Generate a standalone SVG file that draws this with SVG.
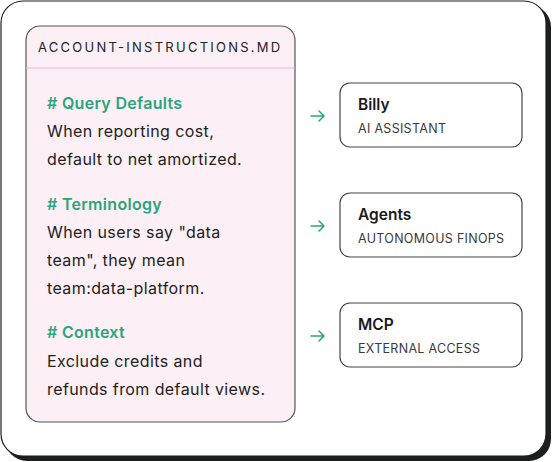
<svg xmlns="http://www.w3.org/2000/svg" width="552" height="462" viewBox="0 0 552 462">
<style>
text { font-family: Inter, "Noto Sans", "Liberation Sans", sans-serif; }
.hdr { font-size: 13px; letter-spacing: 2.25px; fill: #222; }
.h { font-size: 16px; font-weight: 600; fill: #2aa57b; letter-spacing: 0.3px; }
.b { font-size: 16px; fill: #222; letter-spacing: 0.4px; }
.t { font-size: 15.5px; font-weight: 600; fill: #1a1a1a; }
.s { font-size: 12.5px; fill: #3a3a3a; letter-spacing: 0.3px; }
.box { fill: #fff; stroke: #444; stroke-width: 1.2; }
.arr { fill: none; stroke: #2aa57b; stroke-width: 1.5; stroke-linecap: round; stroke-linejoin: round; }
</style>
<g id="frame">
<rect x="5" y="5" width="546" height="456" rx="22" fill="#1d1f1e"/>
<rect x="1" y="1" width="545" height="455" rx="22" fill="#fff" stroke="#1d1f1e" stroke-width="1.2"/>
</g>
<g id="instructions">
<rect x="26" y="26" width="269" height="396" rx="14" fill="#fcf0f6" stroke="#555" stroke-width="1.2"/>
<line x1="26.6" y1="68" x2="294.4" y2="68" stroke="#f7c6da" stroke-width="1.5"/>
<text class="hdr" x="38" y="52">ACCOUNT-INSTRUCTIONS.MD</text>
<text class="h" x="47" y="109"># Query Defaults</text>
<text class="b" x="47" y="137">When reporting cost,</text>
<text class="b" x="47" y="165">default to net amortized.</text>
<text class="h" x="47" y="210"># Terminology</text>
<text class="b" x="47" y="238">When users say "data</text>
<text class="b" x="47" y="266">team", they mean</text>
<text class="b" x="47" y="294">team:data-platform.</text>
<text class="h" x="47" y="338"># Context</text>
<text class="b" x="47" y="367">Exclude credits and</text>
<text class="b" x="47" y="395">refunds from default views.</text>
</g>
<g id="connectors">
<path class="arr" d="M311 116H324M319 111L324 116L319 121"/>
<path class="arr" d="M311 226H324M319 221L324 226L319 231"/>
<path class="arr" d="M311 336H324M319 331L324 336L319 341"/>
</g>
<g id="billy">
<rect class="box" x="340" y="83" width="182" height="64" rx="10"/>
<text class="t" x="358" y="110">Billy</text>
<text class="s" x="358" y="133">AI ASSISTANT</text>
</g>
<g id="agents">
<rect class="box" x="340" y="193" width="182" height="64" rx="10"/>
<text class="t" x="358" y="220">Agents</text>
<text class="s" x="358" y="243">AUTONOMOUS FINOPS</text>
</g>
<g id="mcp">
<rect class="box" x="340" y="303" width="182" height="64" rx="10"/>
<text class="t" x="358" y="330">MCP</text>
<text class="s" x="358" y="353">EXTERNAL ACCESS</text>
</g>
</svg>
